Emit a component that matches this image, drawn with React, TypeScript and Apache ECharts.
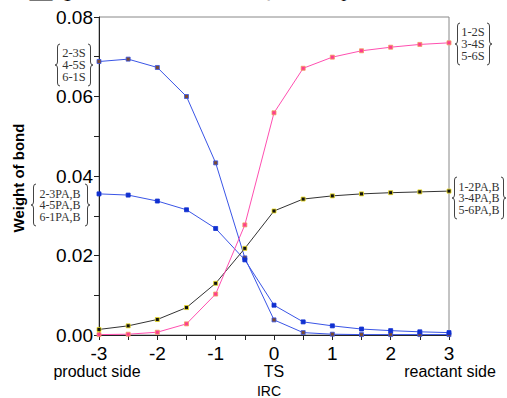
import React, { useEffect, useRef } from "react";
import * as echarts from "echarts";

const irc = [-3, -2.5, -2, -1.5, -1, -0.5, 0, 0.5, 1, 1.5, 2, 2.5, 3];
const sProduct = [0.0688, 0.0694, 0.0673, 0.060, 0.0433, 0.0194, 0.0038, 0.0006, 0.0002, 0.0001, 0.0001, 0.0001, 0.0001];
const paProduct = [0.0355, 0.0352, 0.0337, 0.0315, 0.0268, 0.0189, 0.0075, 0.0033, 0.0023, 0.0015, 0.0011, 0.0008, 0.0006];
const paReactant = [0.0014, 0.0023, 0.0039, 0.0069, 0.0130, 0.0218, 0.0312, 0.0342, 0.0350, 0.0355, 0.0358, 0.0360, 0.0362];
const sReactant = [0.0001, 0.0002, 0.0007, 0.0028, 0.0103, 0.0277, 0.0559, 0.0671, 0.0699, 0.0715, 0.0724, 0.0731, 0.0735];
const sideLabels = ["product side", "TS", "reactant side"];
const groupLeftS = ["2-3S", "4-5S", "6-1S"];
const groupLeftPA = ["2-3PA,B", "4-5PA,B", "6-1PA,B"];
const groupRightS = ["1-2S", "3-4S", "5-6S"];
const groupRightPA = ["1-2PA,B", "3-4PA,B", "5-6PA,B"];

const H = 42;
const W = 5;
const leftBrace = `M${W} 0 Q${W / 2} 0 ${W / 2} 3 L${W / 2} ${H / 2 - 3} Q${W / 2} ${H / 2} 0 ${H / 2} Q${W / 2} ${H / 2} ${W / 2} ${H / 2 + 3} L${W / 2} ${H - 3} Q${W / 2} ${H} ${W} ${H}`;
const rightBrace = `M0 0 Q${W / 2} 0 ${W / 2} 3 L${W / 2} ${H / 2 - 3} Q${W / 2} ${H / 2} ${W} ${H / 2} Q${W / 2} ${H / 2} ${W / 2} ${H / 2 + 3} L${W / 2} ${H - 3} Q${W / 2} ${H} 0 ${H}`;
echarts.graphic.registerShape("lbrace", echarts.graphic.extendPath(leftBrace, {}));
echarts.graphic.registerShape("rbrace", echarts.graphic.extendPath(rightBrace, {}));

const serif = "'Liberation Serif', 'DejaVu Serif', serif";
const sans = "'Liberation Sans', Arial, sans-serif";

function group(lines: string[], x1: number, tx: number, x2: number, top: number, lh: number, fs: number) {
  const els: any[] = [
    { type: "lbrace", x: x1, y: top, style: { fill: "none", stroke: "#444", lineWidth: 1 } },
    { type: "rbrace", x: x2, y: top, style: { fill: "none", stroke: "#444", lineWidth: 1 } },
  ];
  lines.forEach((t, i) => {
    els.push({
      type: "text",
      x: tx,
      y: top + H / 2 + (i - 1) * lh,
      style: { text: t, fill: "#333", font: `${fs}px ${serif}`, textAlign: "center", textVerticalAlign: "middle" },
    });
  });
  return els;
}

export default function App() {
  const ref = useRef<HTMLDivElement>(null);
  useEffect(() => {
    document.body.style.margin = "0";
    const chart = echarts.init(ref.current!, undefined, { renderer: "svg" });
    const mk = (name: string, data: number[], color: string, mColor: string, mBorder: string) => ({
      name,
      type: "line",
      data: irc.map((x, i) => [x, data[i]]),
      symbol: "rect",
      symbolSize: 4,
      lineStyle: { color, width: 1 },
      itemStyle: { color: mColor, borderColor: mBorder, borderWidth: 0.8 },
    });
    chart.setOption({
      animation: false,
      grid: { left: 99, right: 58, top: 17, bottom: 63, show: true, borderColor: "#888", borderWidth: 1 },
      xAxis: {
        type: "value",
        min: -3,
        max: 3,
        interval: 0.5,
        axisLine: { show: true, onZero: false, lineStyle: { color: "#222" } },
        axisTick: { show: true, length: 5, inside: false, lineStyle: { color: "#222" } },
        splitLine: { show: false },
        axisLabel: {
          color: "#000",
          fontSize: 19,
          fontFamily: sans,
          margin: 9,
          formatter: (v: number) => (Number.isInteger(v) ? String(v) : ""),
        },
      },
      yAxis: {
        type: "value",
        min: 0,
        max: 0.08,
        interval: 0.01,
        axisLine: { show: true, onZero: false, lineStyle: { color: "#222" } },
        axisTick: { show: true, length: 5, lineStyle: { color: "#222" } },
        splitLine: { show: false },
        axisLabel: {
          color: "#000",
          fontSize: 19,
          fontFamily: sans,
          margin: 6,
          formatter: (v: number) => (Math.round(v * 100) % 2 === 0 ? v.toFixed(2) : ""),
        },
      },
      series: [
        mk("2-3S", sProduct, "#3a55e6", "#7a4a30", "#3a55e6"),
        mk("2-3PA,B", paProduct, "#3a55e6", "#1030d0", "#1030d0"),
        mk("1-2PA,B", paReactant, "#333333", "#111111", "#f0e020"),
        mk("1-2S", sReactant, "#ff4fb0", "#ff3a90", "#f0a060"),
      ],
      graphic: [
        {
          type: "text",
          x: 2,
          y: 0,
          style: { text: "が重なっていることがわかる。", fill: "#000", font: `26px 'Noto Sans CJK JP'`, textVerticalAlign: "bottom" },
        },
        ...group(groupLeftS, 55, 74, 88, 44, 12, 12.5),
        ...group(groupLeftPA, 31, 60, 85, 184, 11.5, 12),
        ...group(groupRightS, 455, 473, 487, 23, 12, 12.5),
        ...group(groupRightPA, 452, 479, 501, 177, 11.5, 12),
        { type: "text", x: 97, y: 371, style: { text: sideLabels[0], fill: "#000", font: `16px ${sans}`, textAlign: "center", textVerticalAlign: "middle" } },
        { type: "text", x: 274, y: 371, style: { text: sideLabels[1], fill: "#000", font: `16px ${sans}`, textAlign: "center", textVerticalAlign: "middle" } },
        { type: "text", x: 450, y: 371, style: { text: sideLabels[2], fill: "#000", font: `16px ${sans}`, textAlign: "center", textVerticalAlign: "middle" } },
        { type: "text", x: 269, y: 391, style: { text: "IRC", fill: "#000", font: `14px ${sans}`, textAlign: "center", textVerticalAlign: "middle" } },
        {
          type: "text",
          x: 18,
          y: 178,
          rotation: Math.PI / 2,
          style: { text: "Weight of bond", fill: "#000", font: `bold 15px ${sans}`, textAlign: "center", textVerticalAlign: "middle" },
        },
      ],
    });
    return () => chart.dispose();
  }, []);
  return <div ref={ref} style={{ width: 507, height: 398 }} />;
}
